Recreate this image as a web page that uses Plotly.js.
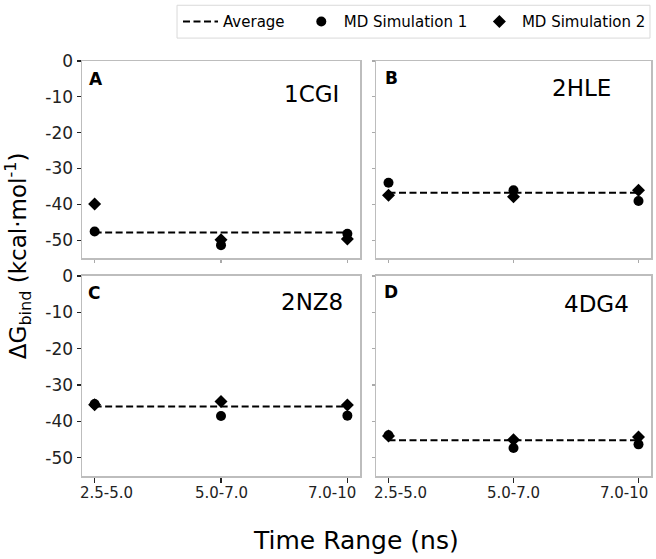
<!DOCTYPE html>
<html>
<head>
<meta charset="utf-8">
<script src="https://cdn.plot.ly/plotly-3.0.1.min.js"></script>
<style>html,body{margin:0;padding:0;background:#fff;}#chart{width:656px;height:559px;}</style>
</head>
<body>
<div id="chart"></div>
<script>
// ---- data ----
const categories = ['2.5-5.0', '5.0-7.0', '7.0-10'];
const panelNames = ['1CGI', '2HLE', '2NZ8', '4DG4'];
const panelLetters = ['A', 'B', 'C', 'D'];
const sim1_1CGI = [-47.6, -51.4, -48.2];
const sim2_1CGI = [-39.9, -49.9, -49.7];
const sim1_2HLE = [-34.0, -36.1, -39.1];
const sim2_2HLE = [-37.5, -37.9, -36.1];
const sim1_2NZ8 = [-35.2, -38.5, -38.4];
const sim2_2NZ8 = [-35.4, -34.5, -35.5];
const sim1_4DG4 = [-43.8, -47.3, -46.3];
const sim2_4DG4 = [-44.0, -45.0, -44.3];
const averages = [-47.9, -36.8, -35.9, -45.2];
const yTickVals = [0, -10, -20, -30, -40, -50];
const yTickText = ['0', '-10', '-20', '-30', '-40', '-50'];

const sim1 = [sim1_1CGI, sim1_2HLE, sim1_2NZ8, sim1_4DG4];
const sim2 = [sim2_1CGI, sim2_2HLE, sim2_2NZ8, sim2_4DG4];

const FONT = 'DejaVu Sans, Liberation Sans, sans-serif';
// horizontal nudges of the x tick labels (the reference labels sit inward at the ends)
const xLabelShift = [12, 0, -15];

const traces = [];
const axSuffix = ['', '2', '3', '4'];

for (let i = 0; i < 4; i++) {
  const xa = 'x' + axSuffix[i], ya = 'y' + axSuffix[i];
  traces.push({
    x: categories, y: categories.map(() => averages[i]), xaxis: xa, yaxis: ya,
    type: 'scatter', mode: 'lines', name: 'Average',
    line: {color: '#000', width: 2, dash: '7px,3.5px'},
    showlegend: i === 0, legend: 'legend', hoverinfo: 'skip'
  });
  traces.push({
    x: categories, y: sim2[i], xaxis: xa, yaxis: ya,
    type: 'scatter', mode: 'markers', name: 'MD Simulation 2',
    marker: {symbol: 'diamond', size: 10, color: '#000'},
    showlegend: i === 0, legend: 'legend3'
  });
  traces.push({
    x: categories, y: sim1[i], xaxis: xa, yaxis: ya,
    type: 'scatter', mode: 'markers', name: 'MD Simulation 1',
    marker: {symbol: 'circle', size: 10, color: '#000'},
    showlegend: i === 0, legend: 'legend2'
  });
}

const xDomL = [0, 0.4886], xDomR = [0.5167, 1];
const yDomT = [0.5252, 1], yDomB = [0, 0.482];

function xAxis(domain, anchor, labels) {
  return {
    domain: domain, anchor: anchor, type: 'category', range: [-0.1, 2.1],
    tickvals: categories,
    showline: true, mirror: true, linecolor: '#bdbdbd', linewidth: 1.5,
    showgrid: false, zeroline: false,
    ticks: 'outside', ticklen: labels ? 5 : 3, tickwidth: 1.2,
    tickcolor: labels ? '#222' : '#aaa',
    showticklabels: false
  };
}
function yAxis(domain, anchor, labels) {
  return {
    domain: domain, anchor: anchor, range: [-55, 0],
    tickvals: yTickVals, ticktext: yTickText,
    showline: true, mirror: true, linecolor: '#bdbdbd', linewidth: 1.5,
    showgrid: false, zeroline: false,
    ticks: 'outside', ticklen: labels ? 4 : 3, tickwidth: 1.2,
    tickcolor: labels ? '#222' : '#aaa',
    showticklabels: labels,
    tickfont: {family: FONT, size: 17, color: '#222'}
  };
}

const annotations = [];
const letterPos = [[0.018, 0.909], [0.025, 0.912], [0.014, 0.913], [0.02, 0.918]];
const namePos = [[0.826, 0.833], [0.749, 0.864], [0.829, 0.871], [0.80, 0.861]];
for (let i = 0; i < 4; i++) {
  annotations.push({
    xref: 'x' + axSuffix[i] + ' domain', yref: 'y' + axSuffix[i] + ' domain',
    x: letterPos[i][0], y: letterPos[i][1], xanchor: 'left', yanchor: 'middle',
    text: '<b>' + panelLetters[i] + '</b>', showarrow: false,
    font: {family: FONT, size: 17, color: '#000'}
  });
  annotations.push({
    xref: 'x' + axSuffix[i] + ' domain', yref: 'y' + axSuffix[i] + ' domain',
    x: namePos[i][0], y: namePos[i][1], xanchor: 'center', yanchor: 'middle',
    text: panelNames[i], showarrow: false,
    font: {family: FONT, size: 23, color: '#000'}
  });
}
// x tick labels of the bottom panels, placed on the category axis
[2, 3].forEach(function (i) {
  categories.forEach(function (c, j) {
    annotations.push({
      xref: 'x' + axSuffix[i], yref: 'y' + axSuffix[i] + ' domain',
      x: c, y: 0, yanchor: 'top', xanchor: 'center',
      xshift: xLabelShift[j], yshift: -6,
      text: c, showarrow: false,
      font: {family: FONT, size: 15, color: '#222'}
    });
  });
});
annotations.push({
  xref: 'paper', yref: 'paper', x: -0.114, y: 0.53, xanchor: 'center', yanchor: 'middle',
  textangle: -90, showarrow: false,
  text: 'ΔG<sub>bind</sub> (kcal·mol<sup>-1</sup>)',
  font: {family: FONT, size: 23, color: '#000'}
});
annotations.push({
  xref: 'paper', yref: 'paper', x: 0.482, y: -0.155, xanchor: 'center', yanchor: 'middle',
  showarrow: false, text: 'Time Range (ns)',
  font: {family: FONT, size: 25, color: '#000'}
});

function legendAt(x) {
  return {
    orientation: 'h', x: x, y: 1.0947, xanchor: 'left', yanchor: 'middle',
    bgcolor: 'rgba(0,0,0,0)', borderwidth: 0, itemwidth: 35,
    font: {family: FONT, size: 15, color: '#000'}
  };
}

const layout = {
  width: 656, height: 559,
  margin: {l: 82, r: 5, t: 59, b: 83},
  paper_bgcolor: '#fff', plot_bgcolor: '#fff',
  font: {family: FONT},
  xaxis: xAxis(xDomL, 'y', false),
  yaxis: yAxis(yDomT, 'x', true),
  xaxis2: xAxis(xDomR, 'y2', false),
  yaxis2: yAxis(yDomT, 'x2', false),
  xaxis3: xAxis(xDomL, 'y3', true),
  yaxis3: yAxis(yDomB, 'x3', true),
  xaxis4: xAxis(xDomR, 'y4', true),
  yaxis4: yAxis(yDomB, 'x4', false),
  legend: legendAt(0.1687),
  legend2: legendAt(0.381),
  legend3: legendAt(0.694),
  shapes: [{
    type: 'rect', xref: 'paper', yref: 'paper',
    x0: 0.167, x1: 0.9982, y0: 1.0552, y1: 1.1343,
    line: {color: '#d9d9d9', width: 1}, fillcolor: 'rgba(0,0,0,0)', layer: 'below'
  }],
  annotations: annotations
};

Plotly.newPlot('chart', traces, layout, {displayModeBar: false, staticPlot: true});
</script>
</body>
</html>
